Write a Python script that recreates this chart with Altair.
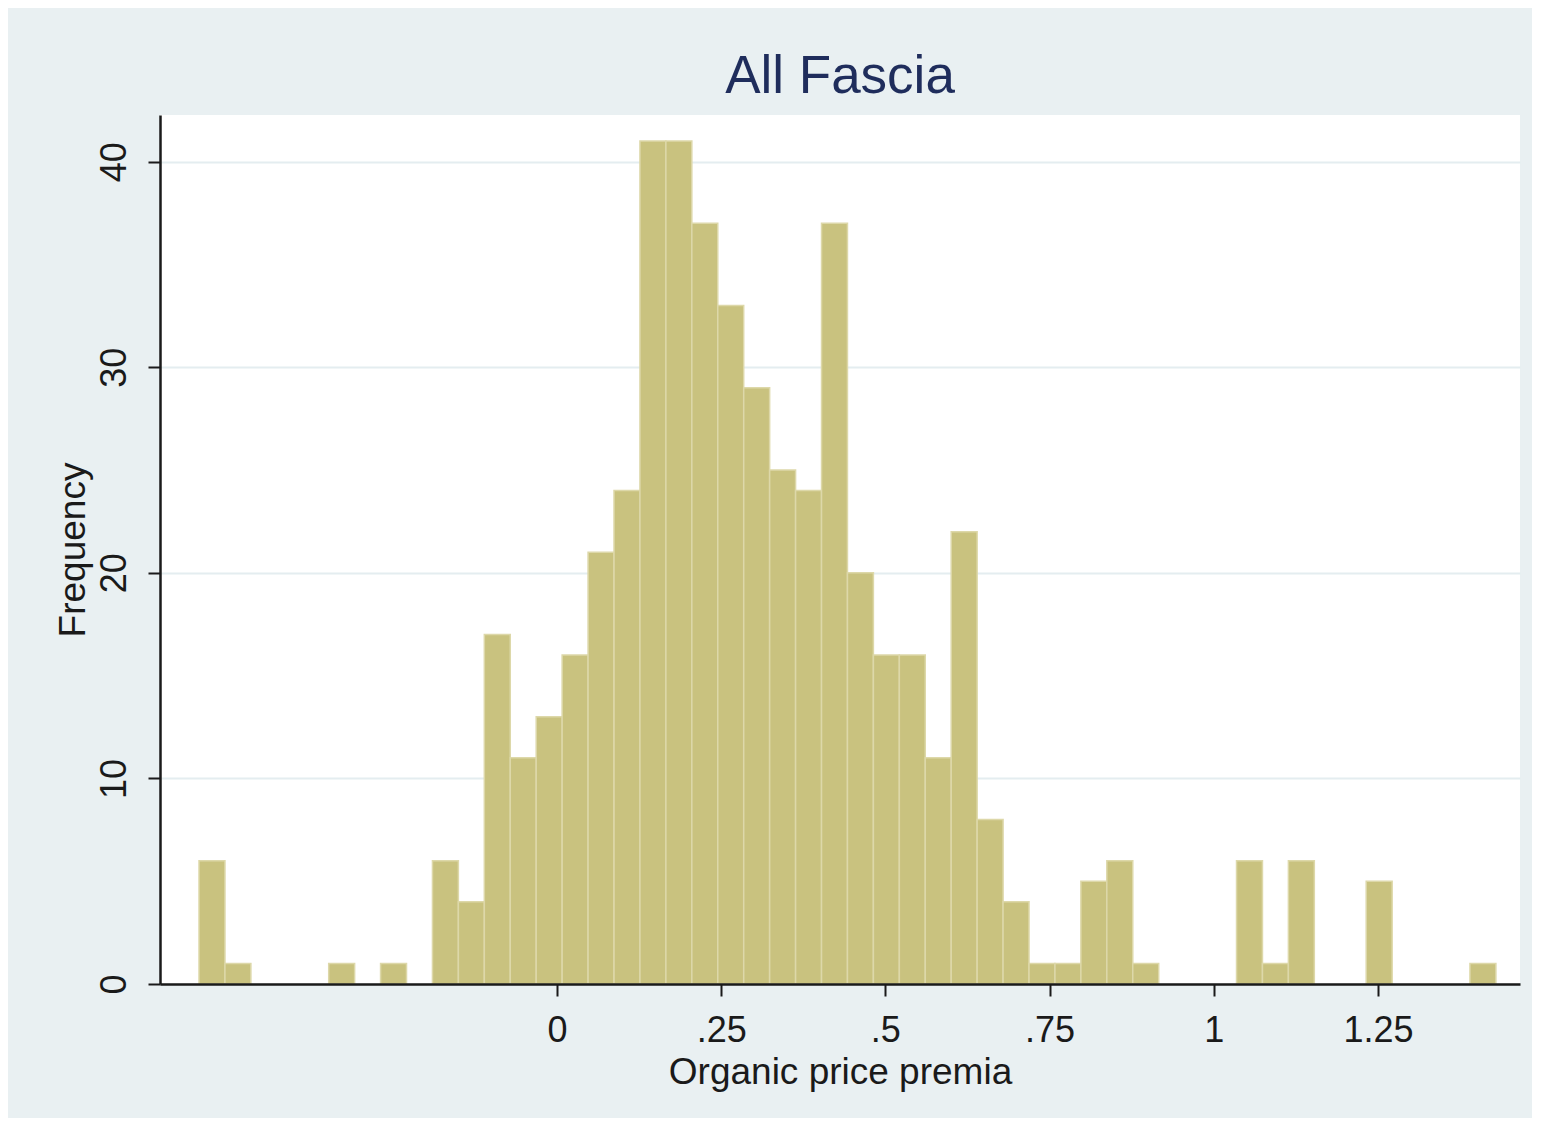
import altair as alt
import pandas as pd

# Histogram of organic price premia (50 bins)
bin_first_edge = -0.545
bin_width = 0.03949
counts = [6, 1, 0, 0, 0, 1, 0, 1, 0, 6,
          4, 17, 11, 13, 16, 21, 24, 41, 41, 37,
          33, 29, 25, 24, 37, 20, 16, 16, 11, 22,
          8, 4, 1, 1, 5, 6, 1, 0, 0, 0,
          6, 1, 6, 0, 0, 5, 0, 0, 0, 1]
x_ticks = [0, 0.25, 0.5, 0.75, 1, 1.25]
y_ticks = [0, 10, 20, 30, 40]

starts = [bin_first_edge + i * bin_width for i in range(len(counts))]
df = pd.DataFrame({
    "start": starts,
    "end": [s + bin_width for s in starts],
    "count": counts,
})
df = df[df["count"] > 0]

x_label_expr = ("datum.value == 0 ? '0' : (datum.value < 1 ? replace(format(datum.value, '.2~f'), '0.', '.') "
                ": format(datum.value, '.2~f'))")

bars = alt.Chart(df).mark_rect(
    color="#C9C27F", stroke="#DDD8A9", strokeWidth=1.5
).encode(
    x=alt.X("start:Q",
            scale=alt.Scale(domain=[-0.6044, 1.4662], nice=False, zero=False),
            axis=alt.Axis(values=x_ticks, labelExpr=x_label_expr, title="Organic price premia",
                          grid=False, zindex=1, tickSize=12, tickWidth=2, tickColor="#1a1a1a",
                          domainColor="#1a1a1a", domainWidth=2.5,
                          labelFontSize=36, labelColor="#1a1a1a", labelPadding=45,
                          labelBaseline="alphabetic", labelFont="Liberation Sans",
                          titleFontSize=37, titleFontWeight="normal", titleColor="#1a1a1a",
                          titleBaseline="alphabetic", titleY=99, titleFont="Liberation Sans")),
    x2="end:Q",
    y=alt.Y("count:Q",
            scale=alt.Scale(domain=[0, 42.27], nice=False, zero=True),
            axis=alt.Axis(values=y_ticks, title="Frequency", grid=True, gridColor="#E4EDF0",
                          gridWidth=2, tickSize=12, tickWidth=2, tickColor="#1a1a1a",
                          domainColor="#1a1a1a", domainWidth=2.5,
                          labelAngle=270, labelAlign="center", labelBaseline="alphabetic",
                          labelPadding=23, labelFontSize=36, labelColor="#1a1a1a",
                          labelFont="Liberation Sans",
                          titleAngle=270, titleAlign="center", titleBaseline="alphabetic",
                          titleX=-76, titleFontSize=37, titleFontWeight="normal",
                          titleColor="#1a1a1a", titleFont="Liberation Sans")),
    y2=alt.datum(0),
)

chart = bars.properties(
    width=1360,
    height=869,
    title=alt.Title("All Fascia", fontSize=53, fontWeight="normal", color="#1F2D5C",
                    font="Liberation Sans", anchor="middle", baseline="alphabetic",
                    offset=18, dy=49),
    autosize=alt.AutoSizeParams(type="none"),
    padding={"left": 152, "top": 107, "right": 12, "bottom": 134},
).configure(
    background="#E9F0F2",
).configure_view(
    fill="white", stroke=None,
)

chart.save("out.html", embed_options={"renderer": "svg", "actions": False})
